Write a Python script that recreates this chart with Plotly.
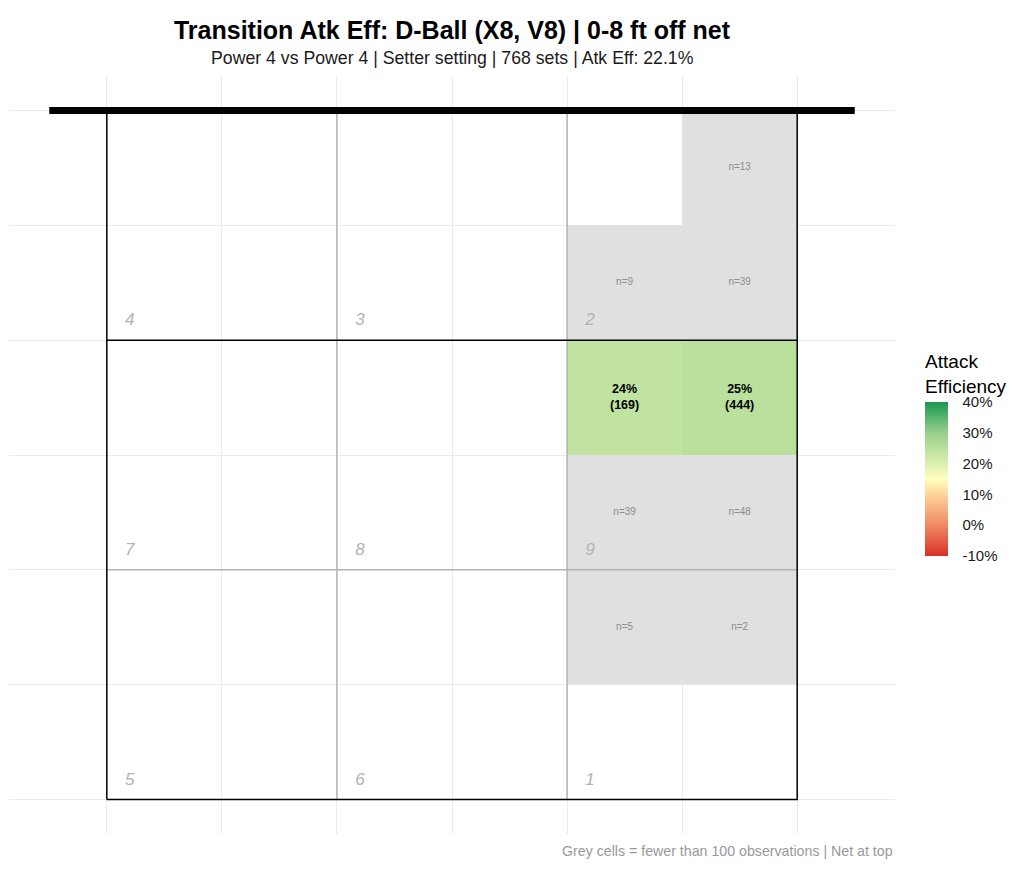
import plotly.graph_objects as go

# Данные: ячейки 1.5 x 1.5 м, сетка по центрам
col_x = [6.75, 8.25]
row_y = [8.25, 6.75, 5.25, 3.75, 2.25]

# эффективность атаки (%) для ячеек с >= 100 наблюдений
eff = [
    [None, None],
    [None, None],
    [24, 25],
    [None, None],
    [None, None],
]
# количество атак
counts = [
    [None, 13],
    [9, 39],
    [169, 444],
    [39, 48],
    [5, 2],
]

zones = ['4', '3', '2', '7', '8', '9', '5', '6', '1']
zone_x0 = [0, 3, 6, 0, 3, 6, 0, 3, 6]
zone_y0 = [6, 6, 6, 3, 3, 3, 0, 0, 0]

cbar_vals = [-10, 0, 10, 20, 30, 40]
cbar_text = ['-10%', '0%', '10%', '20%', '30%', '40%']

court_w = 9
court_h = 9
attack_line = 6
zone_lines_x = [3, 6]
zone_lines_y = [3]
net_ext = 0.75

colorscale = [
    [0.0, '#d73027'],
    [0.2, '#f08a63'],
    [0.4, '#fed49a'],
    [0.5, '#ffffbf'],
    [0.6, '#dcefb0'],
    [0.8, '#97d08c'],
    [1.0, '#1a9850'],
]

# серые ячейки: мало наблюдений
grey_z = [[1 if (c is not None and e is None) else None for c, e in zip(rc, re)]
          for rc, re in zip(counts, eff)]

# страница добавляет отступ 8px, поэтому всё сдвинуто
PLOT_H = 758

fig = go.Figure()

fig.add_trace(go.Heatmap(
    x=col_x, y=row_y, z=grey_z,
    colorscale=[[0, '#e0e0e0'], [1, '#e0e0e0']],
    showscale=False, hoverinfo='skip'
))

fig.add_trace(go.Heatmap(
    x=col_x, y=row_y, z=eff,
    zmin=-10, zmax=40,
    colorscale=colorscale,
    hoverinfo='skip',
    colorbar=dict(
        title=dict(text='Attack<br>Efficiency', side='top',
                   font=dict(size=19, color='black')),
        tickvals=cbar_vals, ticktext=cbar_text,
        tickfont=dict(size=15, color='#1a1a1a'),
        ticks='outside', ticklen=12, tickcolor='white',
        thickness=23, len=205, lenmode='pixels',
        x=1.034, xanchor='left', xpad=0,
        y=(826 - 343) / PLOT_H, yanchor='top', ypad=0,
        outlinewidth=0
    )
))

# линии зон (серые)
for xv in zone_lines_x:
    fig.add_trace(go.Scatter(x=[xv, xv], y=[0, court_h], mode='lines',
                             line=dict(color='#b3b3b3', width=1.5),
                             showlegend=False, hoverinfo='skip'))
for yv in zone_lines_y:
    fig.add_trace(go.Scatter(x=[0, court_w], y=[yv, yv], mode='lines',
                             line=dict(color='#b3b3b3', width=1.5),
                             showlegend=False, hoverinfo='skip'))

# контур площадки и линия атаки
fig.add_trace(go.Scatter(x=[0, court_w, court_w, 0, 0], y=[0, 0, court_h, court_h, 0],
                         mode='lines', line=dict(color='black', width=1.5),
                         showlegend=False, hoverinfo='skip'))
fig.add_trace(go.Scatter(x=[0, court_w], y=[attack_line, attack_line], mode='lines',
                         line=dict(color='black', width=1.5),
                         showlegend=False, hoverinfo='skip'))
# сетка
fig.add_trace(go.Scatter(x=[-net_ext, court_w + net_ext], y=[court_h, court_h],
                         mode='lines', line=dict(color='black', width=7),
                         showlegend=False, hoverinfo='skip'))

# подписи ячеек
big_x, big_y, big_t = [], [], []
small_x, small_y, small_t = [], [], []
for i, yc in enumerate(row_y):
    for j, xc in enumerate(col_x):
        c = counts[i][j]
        e = eff[i][j]
        if c is None:
            continue
        if e is not None:
            big_x.append(xc); big_y.append(yc)
            big_t.append('<b>%d%%<br>(%d)</b>' % (e, c))
        else:
            small_x.append(xc); small_y.append(yc)
            small_t.append('n=%d' % c)

fig.add_trace(go.Scatter(x=big_x, y=big_y, text=big_t, mode='text',
                         textfont=dict(size=12.5, color='black'),
                         showlegend=False, hoverinfo='skip'))
fig.add_trace(go.Scatter(x=small_x, y=small_y, text=small_t, mode='text',
                         textfont=dict(size=10, color='#8c8c8c'),
                         showlegend=False, hoverinfo='skip'))

# номера зон
fig.add_trace(go.Scatter(x=[v + 0.3 for v in zone_x0], y=[v + 0.25 for v in zone_y0],
                         text=zones, mode='text',
                         textfont=dict(size=17, color='#b3b3b3', style='italic'),
                         showlegend=False, hoverinfo='skip'))

fig.update_layout(
    width=1024, height=875, autosize=False,
    margin=dict(l=1, r=137, t=68, b=49),
    plot_bgcolor='white', paper_bgcolor='white',
    font=dict(family='Liberation Sans, Arial, sans-serif'),
    title=dict(text='<b>Transition Atk Eff: D-Ball (X8, V8) | 0-8 ft off net</b>',
               x=0.5, xref='paper', xanchor='center',
               y=1 - 22 / 875, yref='container', yanchor='middle',
               font=dict(size=25, color='black')),
    xaxis=dict(range=[-1.275, 10.275], showgrid=True, gridcolor='#ebebeb', gridwidth=1,
               tick0=0, dtick=1.5, showticklabels=False, zeroline=False, ticks=''),
    yaxis=dict(range=[-0.45, 9.45], showgrid=True, gridcolor='#ebebeb', gridwidth=1,
               tick0=0, dtick=1.5, showticklabels=False, zeroline=False, ticks=''),
    annotations=[
        dict(text='Power 4 vs Power 4 | Setter setting | 768 sets | Atk Eff: 22.1%',
             x=0.5, xref='paper', xanchor='center',
             y=1 + 18 / PLOT_H, yref='paper', yanchor='middle', showarrow=False,
             font=dict(size=17.7, color='#1a1a1a')),
        dict(text='Grey cells = fewer than 100 observations | Net at top',
             x=1, xref='paper', xanchor='right',
             y=-17 / PLOT_H, yref='paper', yanchor='middle', showarrow=False,
             font=dict(size=14.2, color='#999999')),
    ]
)

fig.write_html("out.html")
